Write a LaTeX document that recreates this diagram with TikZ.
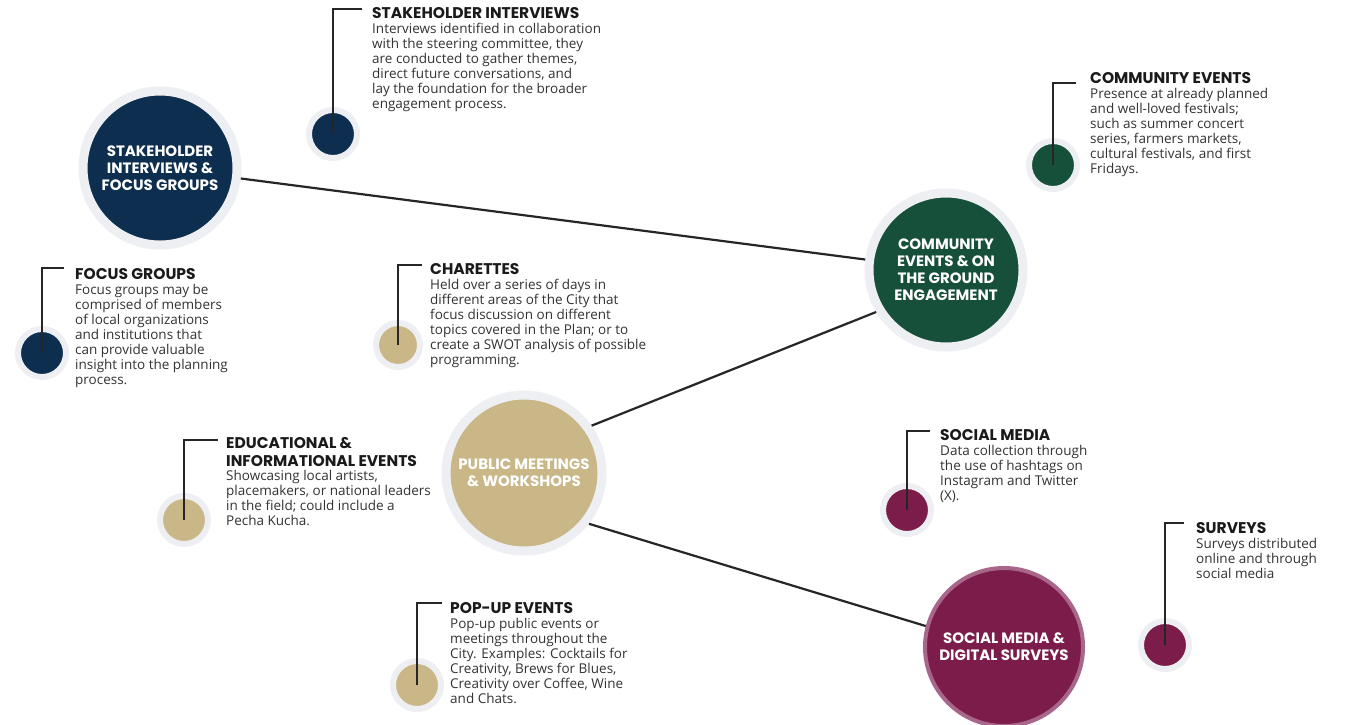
\documentclass[tikz,border=0pt]{standalone}
\usepackage{fontspec}
\setmainfont{Open Sans}
\newfontfamily\pop{Poppins}
\newcommand{\txtlines}[1]{\begin{tabular}[t]{@{}l@{}}#1\end{tabular}}
\definecolor{navy}{HTML}{0D2E4E}
\definecolor{forest}{HTML}{17503A}
\definecolor{tan}{HTML}{C9B787}
\definecolor{maroon}{HTML}{7B1C4B}
\definecolor{halo}{HTML}{EEEFF3}
\definecolor{mauve}{HTML}{A8678A}
\definecolor{linec}{HTML}{262626}
\definecolor{ttlc}{HTML}{1A1A1A}
\definecolor{bodyc}{HTML}{333333}
\begin{document}
\begin{tikzpicture}[x=1pt,y=-1pt,
  big/.style={circle, minimum size=152pt, inner sep=0pt, line width=9pt, draw=halo, text=white, font=\pop\bfseries\fontsize{15}{17}\selectfont, align=center},
  small/.style={circle, minimum size=48pt, inner sep=0pt, line width=6pt, draw=halo},
  ttl/.style={anchor=base west, inner sep=0pt, text=ttlc, font=\pop\bfseries\fontsize{15.5}{18}\selectfont},
  body/.style={anchor=base west, inner sep=0pt, text=bodyc, font=\fontsize{13.5}{15}\selectfont},
  conn/.style={line width=2.2pt, draw=linec},
  brk/.style={line width=1.5pt, draw=linec}]
\useasboundingbox (0,0) rectangle (1346,724);
\fill[white] (0,0) rectangle (1346,724);

% big circles
\node[big, fill=navy, minimum size=154pt] (stake) at (160,168) {STAKEHOLDER\\INTERVIEWS \&\\FOCUS GROUPS};
\node[big, fill=forest, minimum size=154pt] (comm) at (946,270) {COMMUNITY\\EVENTS \& ON\\THE GROUND\\ENGAGEMENT};
\node[big, fill=tan, minimum size=156pt] (pub) at (524,473) {PUBLIC MEETINGS\\\& WORKSHOPS};
\node[big, fill=maroon, draw=mauve, line width=4pt, minimum size=158pt] (soc) at (1004,647) {SOCIAL MEDIA \&\\DIGITAL SURVEYS};

% connectors
\draw[conn] (stake) -- (comm);
\draw[conn] (pub.35) -- (comm.211);
\draw[conn] (pub.-38) -- (soc.165);

% small circles
\node[small, fill=navy] (siC) at (333,134) {};
\node[small, fill=navy] (fgC) at (42,353) {};
\node[small, fill=tan, minimum size=44pt] (chC) at (398,345) {};
\node[small, fill=tan] (edC) at (184,520) {};
\node[small, fill=tan] (puC) at (417,685) {};
\node[small, fill=forest] (ceC) at (1053,165) {};
\node[small, fill=maroon] (smC) at (907,510) {};
\node[small, fill=maroon] (svC) at (1165,645) {};

% bracket ends
\coordinate (siE) at (362,9);
\coordinate (fgE) at (64,268);
\coordinate (chE) at (422,265);
\coordinate (edE) at (218,440);
\coordinate (puE) at (442,603);
\coordinate (ceE) at (1076,83);
\coordinate (smE) at (930,431);
\coordinate (svE) at (1184,523);
\foreach \c in {si,fg,ch,ed,pu,ce,sm,sv} { \draw[brk] (\c C.center) |- (\c E); }

% texts
\node[ttl] (siT) at (372,18) {STAKEHOLDER INTERVIEWS};
\node[body] (siB) at (372,33) {\txtlines{Interviews identified in collaboration\\with the steering committee, they\\are conducted to gather themes,\\direct future conversations, and\\lay the foundation for the broader\\engagement process.}};

\node[ttl] (fgT) at (75,279) {FOCUS GROUPS};
\node[body] (fgB) at (75,294) {\txtlines{Focus groups may be\\comprised of members\\of local organizations\\and institutions that\\can provide valuable\\insight into the planning\\process.}};

\node[ttl] (chT) at (430,274) {CHARETTES};
\node[body] (chB) at (430,289) {\txtlines{Held over a series of days in\\different areas of the City that\\focus discussion on different\\topics covered in the Plan; or to\\create a SWOT analysis of possible\\programming.}};

\node[ttl] (edT) at (226,448) {\txtlines{EDUCATIONAL \&\\INFORMATIONAL EVENTS}};
\node[body] (edB) at (226,480) {\txtlines{Showcasing local artists,\\placemakers, or national leaders\\in the field; could include a\\Pecha Kucha.}};

\node[ttl] (puT) at (450,613) {POP-UP EVENTS};
\node[body] (puB) at (450,628) {\txtlines{Pop-up public events or\\meetings throughout the\\City. Examples: Cocktails for\\Creativity, Brews for Blues,\\Creativity over Coffee, Wine\\and Chats.}};

\node[ttl] (ceT) at (1090,83) {COMMUNITY EVENTS};
\node[body] (ceB) at (1090,98) {\txtlines{Presence at already planned\\and well-loved festivals;\\such as summer concert\\series, farmers markets,\\cultural festivals, and first\\Fridays.}};

\node[ttl] (smT) at (940,440) {SOCIAL MEDIA};
\node[body] (smB) at (940,455) {\txtlines{Data collection through\\the use of hashtags on\\Instagram and Twitter\\(X).}};

\node[ttl] (svT) at (1196,533) {SURVEYS};
\node[body] (svB) at (1196,548) {\txtlines{Surveys distributed\\online and through\\social media}};
\end{tikzpicture}
\end{document}
